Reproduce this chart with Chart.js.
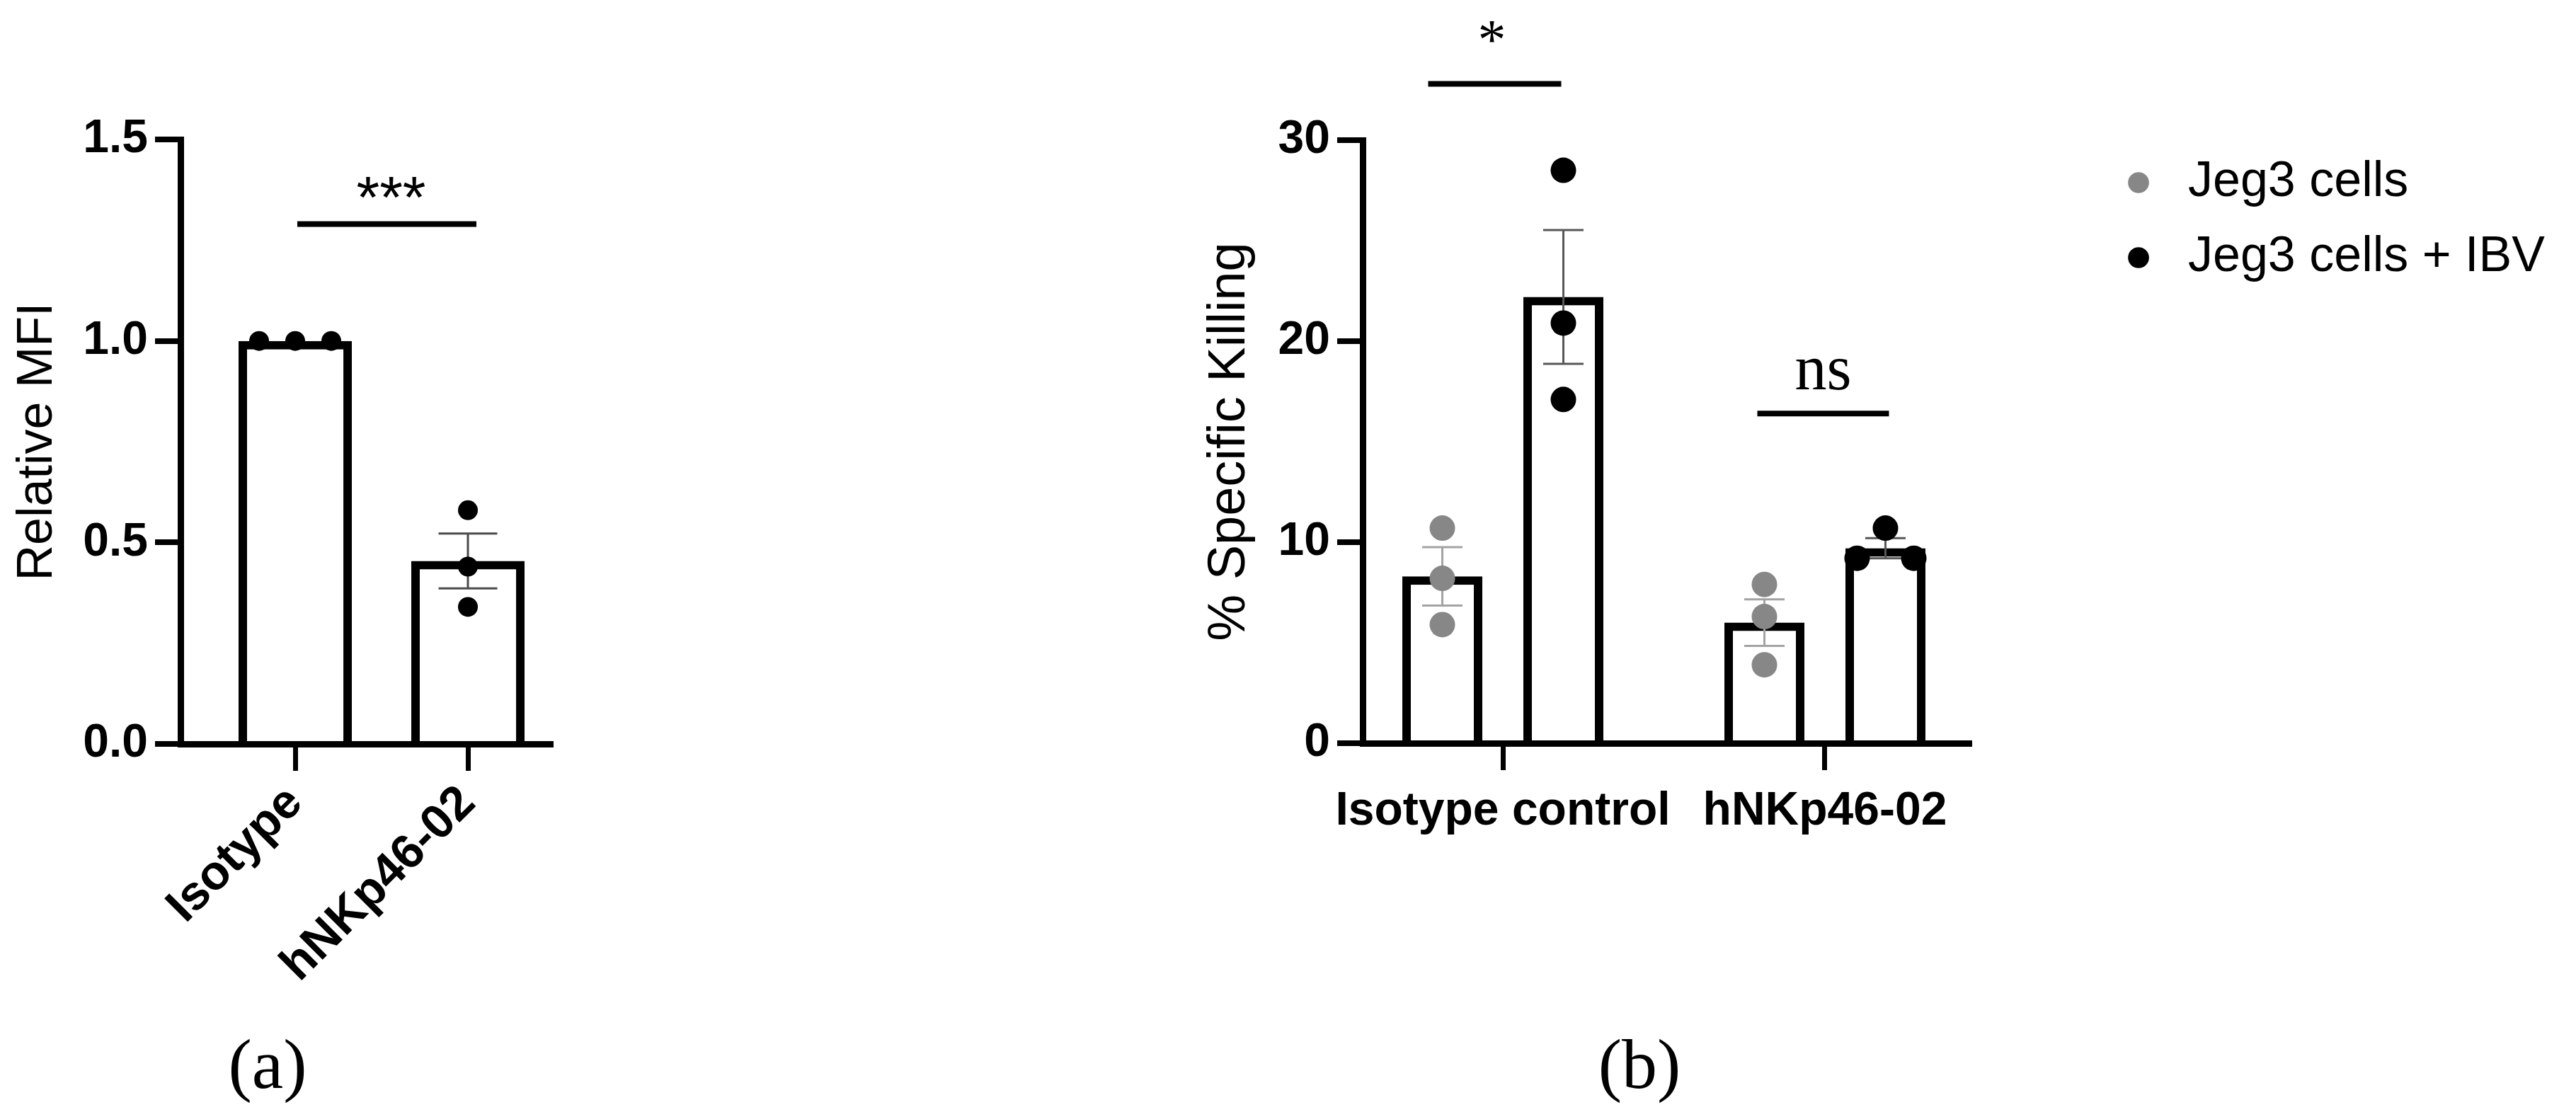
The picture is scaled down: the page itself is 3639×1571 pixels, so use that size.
<!DOCTYPE html>
<html>
<head>
<meta charset="utf-8">
<script src="https://cdn.jsdelivr.net/npm/chart.js@4.4.1/dist/chart.umd.min.js"></script>
<style>
html,body{margin:0;padding:0;background:#fff;}
body{width:3639px;height:1571px;position:relative;overflow:hidden;}
canvas{position:absolute;top:0;}
#ca{left:0;}
#cb{left:1600px;}
.plabel{position:absolute;font-family:'Liberation Serif','Times New Roman',serif;font-size:100px;line-height:1;transform:translate(-50%,-50%);color:#000;white-space:nowrap;}
</style>
</head>
<body>
<canvas id="ca" width="1000" height="1571"></canvas>
<canvas id="cb" width="2039" height="1571"></canvas>
<div class="plabel" style="left:378px;top:1504px">(a)</div>
<div class="plabel" style="left:2316px;top:1504px">(b)</div>
<script>
// ---------------- DATA ----------------
// Panel (a)
const catsA = ['Isotype', 'hNKp46-02'];
const meanA = [1.0, 0.454];
const semA = [0, 0.068];
const ptsA = [[1.0, 1.0, 1.0], [0.58, 0.44, 0.34]];
const yTicksA = [0, 0.5, 1.0, 1.5];
const sigLevelA = [1.29];
const sigTextA = ['***'];

// Panel (b)
const catsB = ['Isotype control', 'hNKp46-02'];
const seriesB = ['Jeg3 cells', 'Jeg3 cells + IBV'];
const meanJeg3 = [8.3, 6.0];
const semJeg3 = [1.45, 1.16];
const ptsJeg3 = [[10.7, 8.2, 5.9], [7.9, 6.3, 3.9]];
const meanIBV = [22.2, 9.7];
const semIBV = [3.33, 0.5];
const ptsIBV = [[28.5, 20.9, 17.1], [10.7, 9.2, 9.2]];
const yTicksB = [0, 10, 20, 30];
const sigLevelB = [32.8, 16.4];
const sigTextB = ['*', 'ns'];

// ---------------- STYLE ----------------
const FONT = "'Liberation Sans', Arial, Helvetica, sans-serif";
const SERIF = "'Liberation Serif', 'Times New Roman', serif";
Chart.defaults.font.family = FONT;
Chart.defaults.color = '#000';

// horizontal spread of replicate dots (in category units)
const spreadA = [[-0.209, 0, 0.209], [0, 0, 0]];
const spreadB = [[[0, 0, 0], [0, 0, 0]], [[0, 0, 0], [0, -0.088, 0.088]]];
const catPctB = 0.7516, barPctB = 0.6608;
const barOffB = (d, n) => (d - (n - 1) / 2) * catPctB / n;

// legend geometry for panel (b)
const LEG_FONT = 70, LEG_BOX = 70, LEG_PAD = 36;
const CANVAS_B_W = 2039, PLOT_B_RIGHT = 1182, GAP_B = 168;
const mctx = document.createElement('canvas').getContext('2d');
mctx.font = `normal ${LEG_FONT}px ${FONT}`;
const legTextW = Math.max(...seriesB.map(s => mctx.measureText(s).width));
const legendW = LEG_PAD + LEG_BOX + LEG_FONT / 2 + legTextW + 10;
const padRightB = Math.max(0, CANVAS_B_W - PLOT_B_RIGHT - GAP_B - legendW);

// ---------------- PLUGINS ----------------
const errorBarPlugin = {
  id: 'errorBars',
  afterDatasetDraw(chart, args) {
    const ds = chart.data.datasets[args.index];
    if (!ds.errors) return;
    const ys = chart.scales.y;
    const ctx = chart.ctx;
    ctx.save();
    ctx.strokeStyle = ds.errorColor;
    ctx.lineWidth = ds.errorWidth;
    args.meta.data.forEach((el, i) => {
      const e = ds.errors[i];
      if (!e) return;
      const m = ds.data[i].y;
      const x = el.x, hw = ds.capWidth / 2;
      const yt = ys.getPixelForValue(m + e), yb = ys.getPixelForValue(m - e);
      ctx.beginPath();
      ctx.moveTo(x, yt); ctx.lineTo(x, yb);
      ctx.moveTo(x - hw, yt); ctx.lineTo(x + hw, yt);
      ctx.moveTo(x - hw, yb); ctx.lineTo(x + hw, yb);
      ctx.stroke();
    });
    ctx.restore();
  }
};

const sigPlugin = {
  id: 'sig',
  afterDraw(chart, args, opts) {
    const ctx = chart.ctx, ys = chart.scales.y;
    (opts.items || []).forEach(it => {
      const a = chart.getDatasetMeta(it.a[0]).data[it.a[1]];
      const b = chart.getDatasetMeta(it.b[0]).data[it.b[1]];
      const x1 = a.x + it.pad[0], x2 = b.x + it.pad[1];
      const y = ys.getPixelForValue(it.level);
      ctx.save();
      ctx.fillStyle = '#000';
      ctx.fillRect(x1, y - it.lw / 2, x2 - x1, it.lw);
      ctx.font = it.font;
      ctx.textAlign = 'center';
      ctx.textBaseline = 'alphabetic';
      ctx.fillText(it.text, (x1 + x2) / 2 + (it.dx || 0), y - it.rise);
      ctx.restore();
    });
  }
};

function axisCommon(tickLen, tickW) {
  return {
    grid: { display: true, drawOnChartArea: false, drawTicks: true, tickLength: tickLen,
            tickWidth: tickW, lineWidth: tickW, tickColor: '#000', color: '#000', offset: false },
    border: { display: true, color: '#000', width: 9, z: 1 }
  };
}
const hiddenAxis = (pos, fit) => ({
  type: 'linear', position: pos, axis: (pos === 'top' ? 'x' : 'y'), display: true,
  grid: { display: false }, border: { display: false }, ticks: { display: false },
  afterFit: fit
});

// ---------------- PANEL A ----------------
new Chart(document.getElementById('ca'), {
  type: 'bar',
  data: {
    datasets: [
      {
        type: 'bar', label: 'Relative MFI',
        data: meanA.map((v, i) => ({ x: i, y: v })),
        errors: semA, errorColor: '#4a4a4a', errorWidth: 3, capWidth: 83,
        backgroundColor: '#fff', borderColor: '#000', borderWidth: 12, borderSkipped: 'start',
        categoryPercentage: 1, barPercentage: 0.656, order: 2, xAxisID: 'x', yAxisID: 'y'
      },
      {
        type: 'scatter', label: 'replicates',
        data: ptsA.flatMap((arr, g) => arr.map((v, k) => ({ x: g + spreadA[g][k], y: v }))),
        pointRadius: 14, pointHoverRadius: 14, pointBackgroundColor: '#000', backgroundColor: '#000',
        pointBorderWidth: 0, borderWidth: 0, showLine: false, order: 1, clip: false,
        xAxisID: 'x', yAxisID: 'y'
      }
    ]
  },
  options: {
    responsive: false, animation: false, devicePixelRatio: 1, events: [],
    layout: { padding: { top: 197, left: 0, right: 222, bottom: 0 } },
    plugins: {
      legend: { display: false }, tooltip: { enabled: false }, title: { display: false },
      sig: { items: [{ a: [0, 0], b: [0, 1], pad: [3, 12], level: sigLevelA[0], text: sigTextA[0],
                       font: `84px ${FONT}`, rise: 9, dx: 6, lw: 8 }] }
    },
    scales: {
      x: Object.assign(axisCommon(38, 7), {
        type: 'linear', min: -0.664, max: 1.4795, bounds: 'data', offset: false,
        afterBuildTicks: s => { s.ticks = catsA.map((c, i) => ({ value: i })); },
        afterFit: s => { s.height = 520; },
        ticks: { autoSkip: false, minRotation: 45, maxRotation: 45, padding: 6, color: '#000',
                 font: { family: FONT, size: 68, weight: 'bold' },
                 callback: (v, i) => catsA[i] }
      }),
      y: Object.assign(axisCommon(36, 8), {
        type: 'linear', min: 0, max: 1.5,
        afterBuildTicks: s => { s.ticks = yTicksA.map(v => ({ value: v })); },
        afterFit: s => { s.width = 255; },
        ticks: { padding: 10, color: '#000', font: { family: FONT, size: 66, weight: 'bold' },
                 callback: v => Number(v).toFixed(1) },
        title: { display: true, text: 'Relative MFI', color: '#000',
                 font: { family: FONT, size: 70, weight: 'normal' }, padding: { top: 12, bottom: 0 } }
      })
    }
  },
  plugins: [errorBarPlugin, sigPlugin]
});

// ---------------- PANEL B ----------------
const ptData = (pts, d) => pts.flatMap((arr, g) => arr.map((v, k) => ({ x: g + barOffB(d, 2) + spreadB[d][g][k], y: v })));

new Chart(document.getElementById('cb'), {
  type: 'bar',
  data: {
    datasets: [
      {
        type: 'bar', label: seriesB[0],
        data: meanJeg3.map((v, i) => ({ x: i, y: v })),
        errors: semJeg3, errorColor: '#a3a3a3', errorWidth: 3, capWidth: 57,
        backgroundColor: '#fff', borderColor: '#000', borderWidth: 12, borderSkipped: 'start',
        categoryPercentage: catPctB, barPercentage: barPctB, order: 2, xAxisID: 'x', yAxisID: 'y'
      },
      {
        type: 'bar', label: seriesB[1],
        data: meanIBV.map((v, i) => ({ x: i, y: v })),
        errors: semIBV, errorColor: '#575757', errorWidth: 3, capWidth: 57,
        backgroundColor: '#fff', borderColor: '#000', borderWidth: 12, borderSkipped: 'start',
        categoryPercentage: catPctB, barPercentage: barPctB, order: 2, xAxisID: 'x', yAxisID: 'y'
      },
      {
        type: 'scatter', label: seriesB[0], inLegend: true,
        data: ptData(ptsJeg3, 0),
        pointRadius: 18, pointHoverRadius: 18, pointBackgroundColor: '#878787', backgroundColor: '#878787',
        borderColor: '#878787', pointBorderWidth: 0, borderWidth: 0, showLine: false, order: 1, clip: false,
        xAxisID: 'x', yAxisID: 'y'
      },
      {
        type: 'scatter', label: seriesB[1], inLegend: true,
        data: ptData(ptsIBV, 1),
        pointRadius: 18, pointHoverRadius: 18, pointBackgroundColor: '#000', backgroundColor: '#000',
        borderColor: '#000', pointBorderWidth: 0, borderWidth: 0, showLine: false, order: 1, clip: false,
        xAxisID: 'x', yAxisID: 'y'
      }
    ]
  },
  options: {
    responsive: false, animation: false, devicePixelRatio: 1, events: [],
    layout: { padding: { top: 187, left: 0, right: padRightB, bottom: 0 } },
    plugins: {
      tooltip: { enabled: false }, title: { display: false },
      legend: {
        display: true, position: 'right', align: 'start', maxWidth: 3000,
        labels: {
          color: '#000', font: { family: FONT, size: LEG_FONT, weight: 'normal' },
          usePointStyle: true, pointStyle: 'circle', boxWidth: LEG_BOX, boxHeight: 21, padding: LEG_PAD,
          filter: (item, data) => !!data.datasets[item.datasetIndex].inLegend
        }
      },
      sig: { items: [
        { a: [0, 0], b: [1, 0], pad: [-20, -3], level: sigLevelB[0], text: sigTextB[0],
          font: `80px ${SERIF}`, rise: 35, dx: -4, lw: 8 },
        { a: [0, 1], b: [1, 1], pad: [-10, 5], level: sigLevelB[1], text: sigTextB[1],
          font: `90px ${SERIF}`, rise: 34, dx: 0, lw: 8 }
      ] }
    },
    scales: {
      x: Object.assign(axisCommon(38, 7), {
        type: 'linear', min: -0.4352, max: 1.4484, bounds: 'data', offset: false,
        afterBuildTicks: s => { s.ticks = catsB.map((c, i) => ({ value: i })); },
        afterFit: s => { s.height = 521; },
        ticks: { autoSkip: false, minRotation: 0, maxRotation: 0, padding: 19, color: '#000',
                 font: { family: FONT, size: 66, weight: 'bold' },
                 callback: (v, i) => catsB[i] }
      }),
      y: Object.assign(axisCommon(36, 8), {
        type: 'linear', min: 0, max: 30,
        afterBuildTicks: s => { s.ticks = yTicksB.map(v => ({ value: v })); },
        afterFit: s => { s.width = 325; },
        ticks: { padding: 10, color: '#000', font: { family: FONT, size: 66, weight: 'bold' },
                 callback: v => String(v) },
        title: { display: true, text: '% Specific Killing', color: '#000',
                 font: { family: FONT, size: 74, weight: 'normal' }, padding: { top: 93, bottom: 0 } }
      }),
      xTop: hiddenAxis('top', s => { s.height = 11; }),
      yRight: hiddenAxis('right', s => { s.width = GAP_B; })
    }
  },
  plugins: [errorBarPlugin, sigPlugin]
});
</script>
</body>
</html>
